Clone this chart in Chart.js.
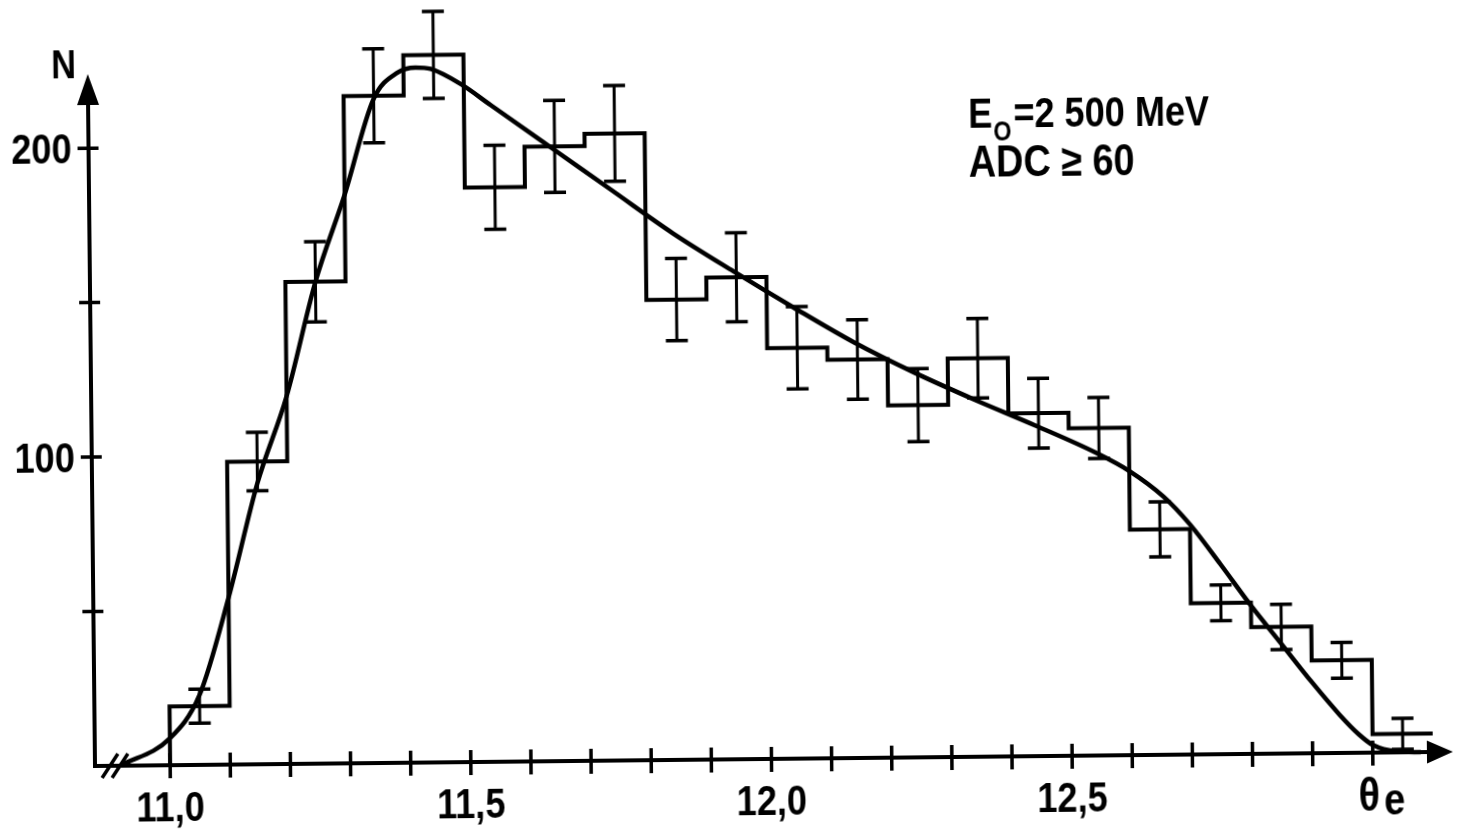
<!DOCTYPE html>
<html>
<head>
<meta charset="utf-8">
<script src="https://cdn.jsdelivr.net/npm/chart.js@4.4.1/dist/chart.umd.min.js"></script>
<style>
html, body { margin: 0; padding: 0; background: #fff; overflow: hidden; }
#wrap {
    width: 1465px; height: 831px;
    transform: rotate(-0.6deg);
    transform-origin: 95px 766px;
}
</style>
</head>
<body>
<div id="wrap"><canvas id="thetaChart" width="1465" height="831"></canvas></div>
<script>
// theta_e histogram, bins 0.1 wide given by their lower edge
const binWidth = 0.1;
const binLow = [11.0, 11.1, 11.2, 11.3, 11.4, 11.5, 11.6, 11.7, 11.8, 11.9, 12.0,
                12.1, 12.2, 12.3, 12.4, 12.5, 12.6, 12.7, 12.8, 12.9, 13.0];
const counts = [19, 98, 156, 216, 229, 186, 199, 203, 149, 156, 133,
                129, 114, 129, 111, 106, 73, 49, 41, 30, 6];
const errors = [5.5, 9.5, 13, 15.2, 14.1, 13.6, 14.9, 15.5, 13.3, 14.4, 13.3,
                12.9, 11.8, 12.9, 11.3, 9.9, 8.9, 5.8, 7.3, 5.8, 5];

// smooth calculated distribution
const fitTheta = [10.917, 11.0, 11.05, 11.1, 11.15, 11.2, 11.25, 11.3, 11.35, 11.39, 11.42,
                  11.445, 11.495, 11.545, 11.645, 11.745, 11.845, 11.945, 12.045, 12.145,
                  12.245, 12.345, 12.445, 12.545, 12.6, 12.657, 12.7, 12.75, 12.8, 12.85,
                  12.9, 12.945, 12.977, 13.0, 13.04, 13.08];
const fitN = [0, 8.7, 22.6, 54, 91, 119, 156, 184, 215, 223.4, 225,
              224.5, 219.5, 212.5, 198.5, 184.5, 170.5, 158, 146, 134.5,
              124.5, 115.5, 107, 98, 92, 83.5, 74.5, 61.5, 48, 35.5,
              23, 12.5, 6, 2.5, 0.3, 0];

const xTicks = [11.0, 11.5, 12.0, 12.5];
const xTickLabels = ["11,0", "11,5", "12,0", "12,5"];
const yTicks = [100, 200];
const yTickLabels = ["100", "200"];
const yMinorTicks = [50, 150];

const SQUEEZE = 0.86;
const font = (size) => "bold " + size + "px 'Liberation Sans', Arial, sans-serif";

// condensed lettering: plain bold face squeezed horizontally
const drawText = (ctx, text, x, y, size, align) => {
    ctx.save();
    ctx.font = font(size);
    ctx.textAlign = align;
    ctx.textBaseline = "alphabetic";
    ctx.translate(x, y);
    ctx.scale(SQUEEZE, 1);
    ctx.fillText(text, 0, 0);
    ctx.restore();
};
const textWidth = (ctx, text, size) => {
    ctx.save();
    ctx.font = font(size);
    const w = ctx.measureText(text).width * SQUEEZE;
    ctx.restore();
    return w;
};

const histData = [{x: binLow[0], y: 0}]
    .concat(binLow.map((v, i) => ({x: v, y: counts[i]})))
    .concat([{x: binLow[binLow.length - 1] + binWidth, y: counts[counts.length - 1]}]);
const fitData = fitTheta.map((v, i) => ({x: v, y: fitN[i]}));

const errorBars = {
    id: "errorBars",
    afterDatasetsDraw: (chart) => {
        const {ctx, scales: {x, y}} = chart;
        ctx.save();
        ctx.strokeStyle = "#000";
        binLow.forEach((lo, i) => {
            const px = x.getPixelForValue(lo + binWidth / 2);
            const top = y.getPixelForValue(counts[i] + errors[i]);
            const bot = y.getPixelForValue(counts[i] - errors[i]);
            ctx.lineWidth = 3;
            ctx.beginPath();
            ctx.moveTo(px, top);
            ctx.lineTo(px, bot);
            ctx.stroke();
            ctx.lineWidth = 3.5;
            ctx.beginPath();
            ctx.moveTo(px - 11, top);
            ctx.lineTo(px + 11, top);
            ctx.moveTo(px - 11, bot);
            ctx.lineTo(px + 11, bot);
            ctx.stroke();
        });
        ctx.restore();
    }
};

const axes = {
    id: "axes",
    afterDraw: (chart) => {
        const {ctx, chartArea: area, scales: {x, y}} = chart;
        const x0 = area.left, y0 = y.getPixelForValue(0);
        ctx.save();
        ctx.strokeStyle = ctx.fillStyle = "#000";

        // axis lines with arrow heads
        ctx.lineWidth = 4;
        ctx.beginPath();
        ctx.moveTo(x0, y0 + 2);
        ctx.lineTo(x0, area.top + 28);
        ctx.moveTo(x0 - 2, y0);
        ctx.lineTo(area.right - 22, y0);
        ctx.stroke();
        ctx.beginPath();
        ctx.moveTo(x0, area.top);
        ctx.lineTo(x0 - 11, area.top + 31);
        ctx.lineTo(x0 + 11, area.top + 31);
        ctx.closePath();
        ctx.moveTo(area.right + 2, y0);
        ctx.lineTo(area.right - 24, y0 - 11.5);
        ctx.lineTo(area.right - 24, y0 + 11.5);
        ctx.closePath();
        ctx.fill();

        // tick marks across the axes
        ctx.lineWidth = 3.5;
        ctx.beginPath();
        binLow.forEach(v => {
            const px = x.getPixelForValue(v);
            ctx.moveTo(px, y0 - 12);
            ctx.lineTo(px, y0 + 13);
        });
        yMinorTicks.concat(yTicks).forEach(v => {
            const py = y.getPixelForValue(v);
            ctx.moveTo(x0 - 11, py);
            ctx.lineTo(x0 + 10, py);
        });
        // broken axis mark
        [15, 25].forEach(dx => {
            ctx.moveTo(x0 + dx - 8, y0 + 12);
            ctx.lineTo(x0 + dx + 8, y0 - 12);
        });
        ctx.stroke();

        // tick labels
        xTicks.forEach((v, i) => drawText(ctx, xTickLabels[i], x.getPixelForValue(v), y0 + 56, 42, "center"));
        yTicks.forEach((v, i) => drawText(ctx, yTickLabels[i], x0 - 17, y.getPixelForValue(v) + 15, 42, "right"));

        // axis titles
        drawText(ctx, "N", x0 - 24, area.top + 4, 40, "center");
        const tx13 = x.getPixelForValue(13.0);
        drawText(ctx, "\u03b8", tx13 - 4, y0 + 58, 46, "center");
        drawText(ctx, "e", tx13 + 11, y0 + 62, 44, "left");

        // run conditions
        const tx = 975;
        drawText(ctx, "E", tx, 137, 42, "left");
        let w = textWidth(ctx, "E", 42) + 1;
        drawText(ctx, "O", tx + w, 150, 27, "left");
        w += textWidth(ctx, "O", 27) + 2;
        drawText(ctx, "=2 500 MeV", tx + w, 137, 42, "left");
        drawText(ctx, "ADC \u2265 60", tx, 186, 44, "left");
        ctx.restore();
    }
};

const chart = new Chart(document.getElementById("thetaChart"), {
    type: "line",
    data: {
        datasets: [
            {
                label: "N",
                data: histData,
                stepped: true,
                borderColor: "#000",
                borderWidth: 4,
                pointRadius: 0,
                fill: false,
                clip: false
            },
            {
                label: "fit",
                data: fitData,
                cubicInterpolationMode: "monotone",
                borderColor: "#000",
                borderWidth: 4.5,
                pointRadius: 0,
                fill: false,
                clip: false
            }
        ]
    },
    options: {
        responsive: false,
        animation: false,
        events: [],
        layout: {padding: {left: 95, right: 14, top: 74, bottom: 65}},
        plugins: {legend: {display: false}, tooltip: {enabled: false}},
        scales: {
            x: {type: "linear", min: 10.875, max: 13.13, display: false},
            y: {min: 0, max: 224, display: false}
        }
    },
    plugins: [errorBars, axes]
});
</script>
</body>
</html>
